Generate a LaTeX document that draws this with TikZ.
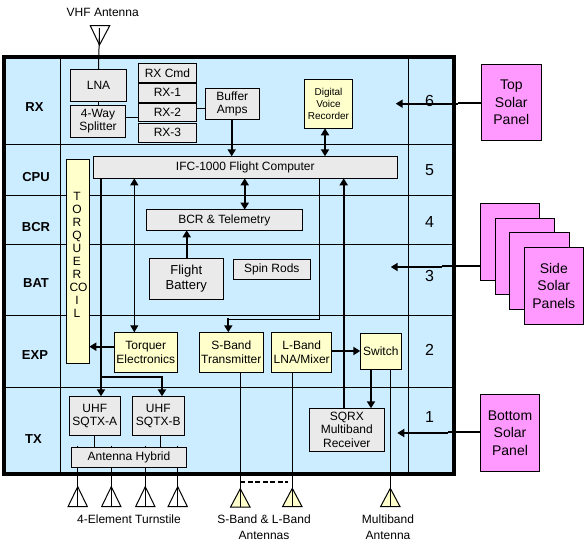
\documentclass[tikz,border=0pt]{standalone}
\usepackage{fontspec}
\setmainfont{Liberation Sans}
\usetikzlibrary{arrows.meta,calc}
\definecolor{bluebg}{HTML}{CCECFF}
\definecolor{graybox}{HTML}{EAEAEA}
\definecolor{yellowbox}{HTML}{FFFFCC}
\definecolor{pinkbox}{HTML}{FF99FF}
\newcommand{\fs}[2]{\fontsize{#1}{#2}\selectfont}
% name, style, x1, y1, x2, y2, text
\newcommand{\bx}[7]{%
  \pgfmathsetmacro{\bxw}{#5-#3}\pgfmathsetmacro{\bxh}{#6-#4}%
  \pgfmathsetmacro{\bxx}{(#5+#3)/2}\pgfmathsetmacro{\bxy}{(#6+#4)/2}%
  \node[#2,minimum width=\bxw pt,minimum height=\bxh pt] (#1) at (\bxx,\bxy) {#7};}
\tikzset{
  base/.style={draw=black,line width=1pt,inner sep=0pt,outer sep=0pt,align=center,font=\fs{12}{13.5}},
  gbox/.style={base,fill=graybox},
  ybox/.style={base,fill=yellowbox},
  pbox/.style={base,fill=pinkbox,font=\fs{14}{17.5}},
  sect/.style={font=\bfseries\fs{13}{15},inner sep=0pt},
  num/.style={font=\fs{16}{18},inner sep=0pt},
  lbl/.style={font=\fs{12}{15.5},inner sep=0pt,align=center},
  thin1/.style={line width=1pt,draw=black},
  heavy/.style={line width=2.2pt,draw=black},
  tipA/.style={-{Triangle[length=7pt,width=8pt]}},
  tipB/.style={{Triangle[length=7pt,width=8pt]}-{Triangle[length=7pt,width=8pt]}},
  ant/.style={line width=1pt,draw=black,line join=miter},
}
\begin{document}
\begin{tikzpicture}[x=1pt,y=-1pt]
\useasboundingbox (0,0) rectangle (586,548);
% housing
\bx{frame}{draw=none,fill=bluebg,inner sep=0pt,outer sep=0pt}{3.5}{56.7}{454}{474}{}
\foreach \yy/\nm in {145/a,196/b,244/c,315/d,387/e}{
  \draw[thin1] (3.5,\yy) coordinate (row\nm l) -- (454,\yy) coordinate (row\nm r);
}
\draw[thin1] (60.5,56.7) coordinate (colat) -- (60.5,476) coordinate (colab);
\draw[thin1] (408.5,56.7) coordinate (colbt) -- (408.5,474) coordinate (colbb);
\draw[line width=4pt,draw=black,line join=miter] (frame.north west) rectangle (frame.south east);
% section labels
\node[sect] (sRX) at (34.5,107) {RX};
\node[sect] (sCPU) at (36,176.7) {CPU};
\node[sect] (sBCR) at (36,227) {BCR};
\node[sect] (sBAT) at (36,283) {BAT};
\node[sect] (sEXP) at (35,355) {EXP};
\node[sect] (sTX) at (33.5,439) {TX};
\node[num] (n6) at (429.5,100.7) {6};
\node[num] (n5) at (429.5,170) {5};
\node[num] (n4) at (429.5,221.7) {4};
\node[num] (n3) at (429.5,276) {3};
\node[num] (n2) at (429.5,350) {2};
\node[num] (n1) at (429.5,416.7) {1};
% boxes
\bx{lna}{gbox}{70.3}{69.3}{126.7}{101.3}{LNA}
\bx{splt}{gbox}{70.3}{105.3}{125.7}{137.3}{4-Way\\Splitter}
\bx{rxcmd}{gbox}{138.3}{63.3}{196.7}{82.3}{RX Cmd}
\bx{rxa}{gbox}{138.3}{83.3}{196.7}{102.3}{RX-1}
\bx{rxb}{gbox}{138.3}{103.3}{196.7}{121.3}{RX-2}
\bx{rxc}{gbox}{138.3}{123.3}{196.7}{142.3}{RX-3}
\bx{buf}{gbox}{205.3}{88.3}{259.3}{119.3}{Buffer\\Amps}
\bx{dvr}{ybox,font=\fs{10}{12}}{304.3}{79.3}{352.7}{128.3}{Digital\\Voice\\Recorder}
\bx{ifc}{gbox}{93.3}{156.3}{397.3}{178.3}{IFC-1000 Flight Computer}
\bx{coil}{ybox,font=\fs{12}{13}}{66.7}{159.3}{89.3}{363.3}{}
\node[font=\fs{12}{13},align=center,inner sep=0pt,anchor=north] (coiltext) at (77,192) {T\\O\\R\\Q\\U\\E\\R\\\hspace*{3pt}CO\\I\\L};
\bx{bcr}{gbox}{146.3}{209.7}{302.3}{230.3}{BCR \& Telemetry}
\bx{batt}{gbox,font=\fs{13}{14.5}}{149.3}{258.3}{223.3}{299.3}{Flight\\Battery}
\bx{spin}{gbox}{233.3}{259.3}{310.3}{279.3}{Spin Rods}
\bx{torq}{ybox}{114.3}{332.3}{177.3}{372.3}{Torquer\\Electronics}
\bx{sband}{ybox}{199.3}{332.3}{263.3}{372.3}{S-Band\\Transmitter}
\bx{lband}{ybox}{271.7}{332.3}{331.7}{372.3}{L-Band\\LNA/Mixer}
\bx{sw}{ybox}{360.3}{333.3}{401.3}{369.3}{Switch}
\bx{uhfa}{gbox}{69.3}{396.3}{120.3}{435.3}{UHF\\SQTX-A}
\bx{uhfb}{gbox}{132.3}{396.3}{184.3}{435.3}{UHF\\SQTX-B}
\bx{hyb}{gbox}{71.3}{447}{186.7}{467.3}{Antenna Hybrid}
\bx{sqrx}{gbox}{309.3}{408.3}{384.3}{451.3}{SQRX\\Multiband\\Receiver}
% solar panels
\bx{ptop}{pbox}{481.3}{64.3}{541.3}{141}{Top\\Solar\\Panel}
\bx{pa}{pbox}{480.3}{203.3}{539.7}{280}{}
\bx{pb}{pbox}{495.3}{218.3}{554.3}{294.3}{}
\bx{pc}{pbox}{509.3}{232.3}{569.3}{309.3}{}
\bx{pd}{pbox}{524.3}{247.3}{583.3}{324.3}{Side\\Solar\\Panels}
\bx{pbot}{pbox}{480.3}{394.3}{539.7}{471.3}{Bottom\\Solar\\Panel}
% tips and antennas
\coordinate (vhf) at (99.5,45);
\coordinate (ta) at (77.7,486.7);
\coordinate (tb) at (111.3,486.7);
\coordinate (tc) at (145.3,486.7);
\coordinate (td) at (177.7,486.7);
\coordinate (as) at (240.3,488.7);
\coordinate (al) at (292.3,488.3);
\coordinate (am) at (390.3,488.3);
% thin connectors
\draw[thin1] (99.5,28) -- (99.5,69.3 -| lna.north);
\draw[thin1] (lna.south -| 98.3,0) -- (splt.north -| 98.3,0);
\draw[thin1] (splt.east |- 0,118) -- (rxb.west |- 0,118);
\draw[thin1] (rxb.east |- 0,108.3) -- (buf.west |- 0,108.3);
\draw[thin1] (uhfa.south -| 94.3,0) -- (hyb.north -| 94.3,0);
\draw[thin1] (uhfb.south -| 160.3,0) -- (hyb.north -| 160.3,0);
\foreach \t in {ta,tb,tc,td}{
  \draw[thin1] (\t |- 0,445.7) -- (\t |- hyb.north);
  \draw[thin1] (\t |- hyb.south) -- (\t |- 0,506.7);
}
\draw[thin1] (as |- sband.south) -- (as |- 0,506.7);
\draw[thin1] (al |- lband.south) -- (al |- 0,506.7);
\draw[thin1] (am |- sw.south) -- (am |- 0,506.7);
\draw[line width=1.6pt,dash pattern=on 5pt off 2.5pt] (as |- 0,481.7) -- (288,481.7);
% arrows
\draw[heavy,tipA] (buf.south -| 231.7,0) -- (ifc.north -| 231.7,0);
\draw[heavy,tipB] (dvr.south -| 325,0) -- (ifc.north -| 325,0);
\draw[heavy,tipB] (ifc.south -| 244.7,0) -- (bcr.north -| 244.7,0);
\draw[heavy,tipA] (batt.north -| 186.7,0) -- (bcr.south -| 186.7,0);
\draw[thin1,tipB] (ifc.south -| 134.3,0) -- (torq.north -| 134.3,0);
\draw[heavy,tipA] (ifc.south -| 101,0) -- (uhfa.north -| 101,0);
\draw[heavy,tipA] (101,377.3) -- (162,377.3) -- (uhfb.north -| 162,0);
\draw[thin1] (ifc.south -| 319.3,0) -- (319.3,319.3) -- (228.3,319.3);
\draw[heavy,tipA] (228.3,318.3) -- (sband.north -| 228.3,0);
\draw[heavy,tipA] (sqrx.north -| 343.7,0) -- (ifc.south -| 343.7,0);
\draw[heavy,tipA] (lband.east |- 0,351) -- (sw.west |- 0,351);
\draw[heavy,tipA] (sw.south -| 371,0) -- (sqrx.north -| 371,0);
\draw[heavy,tipA] (torq.west |- 0,346.7) -- (coil.east |- 0,346.7);
\draw[heavy] (ptop.west |- 0,102.7) -- (457.7,102.7);
\draw[heavy,tipA] (457.7,103.7) -- (395.7,103.7);
\draw[heavy] (pa.west |- 0,266) -- (442.3,266);
\draw[heavy,tipA] (442.3,267) -- (390.7,267);
\draw[heavy] (pbot.west |- 0,432) -- (448.3,432);
\draw[heavy,tipA] (448.3,433) -- (397.3,433);
% antenna triangles
\draw[ant] (90.3,25.7) -- (109.7,25.7) -- (vhf) -- cycle;
\draw[thin1] (99.5,28) -- (vhf);
\foreach \t in {ta,tb,tc,td}{
  \draw[ant] (\t) -- ++(-9.7,20) -- ++(19.4,0) -- cycle;
}
\foreach \t in {as,al,am}{
  \draw[ant,fill=yellowbox] (\t) -- ++(-9.7,18.3) -- ++(19.4,0) -- cycle;
  \draw[thin1] (\t) -- ++(0,18.3);
}
\foreach \t in {ta,tb,tc,td}{\draw[thin1] (\t) -- ++(0,20);}
% captions
\node[lbl] (cvhf) at (102.7,12.7) {VHF Antenna};
\node[lbl] (ctur) at (129,519.3) {4-Element Turnstile};
\node[lbl,anchor=north] (csl) at (264,515) {S-Band \& L-Band\\Antennas};
\node[lbl,anchor=north] (cmb) at (388,515) {Multiband\\Antenna};
\end{tikzpicture}
\end{document}
